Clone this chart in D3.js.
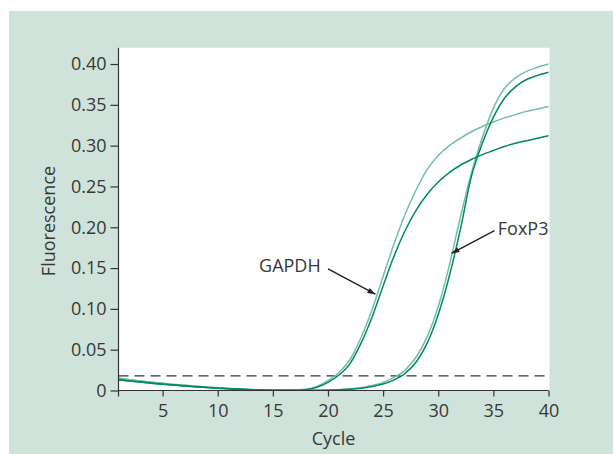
<!DOCTYPE html>
<html>
<head>
<meta charset="utf-8">
<script src="https://cdn.jsdelivr.net/npm/d3@7"></script>
<style>
  body { margin: 0; background: #fff; }
  text { font-family: "Open Sans", "Noto Sans", sans-serif; fill: #383838; }
</style>
</head>
<body>
<script>
// qPCR amplification curves
var cycles = [1,2,3,4,5,6,7,8,9,10,11,12,13,14,15,16,17,18,19,20,
              21,22,23,24,25,26,27,28,29,30,31,32,33,34,35,36,37,38,39,40];

var gapdhLight = [0.0150,0.0133,0.0117,0.0102,0.0088,0.0075,0.0063,0.0052,0.0042,0.0033,
                  0.0025,0.0018,0.0012,0.0007,0.0004,0.0003,0.0006,0.0015,0.0050,0.0120,
                  0.0220,0.0380,0.0650,0.0990,0.1400,0.1800,0.2160,0.2460,0.2710,0.2880,
                  0.3000,0.3090,0.3170,0.3235,0.3290,0.3340,0.3380,0.3420,0.3450,0.3480];
var gapdhDark  = [0.0132,0.0117,0.0103,0.0090,0.0078,0.0066,0.0055,0.0045,0.0036,0.0028,
                  0.0021,0.0015,0.0010,0.0006,0.0003,0.0002,0.0003,0.0010,0.0040,0.0100,
                  0.0190,0.0330,0.0580,0.0900,0.1280,0.1650,0.1960,0.2210,0.2405,0.2555,
                  0.2670,0.2760,0.2830,0.2890,0.2940,0.2990,0.3030,0.3060,0.3090,0.3120];
var foxp3Light = [0.0150,0.0133,0.0117,0.0102,0.0088,0.0075,0.0063,0.0052,0.0042,0.0033,
                  0.0025,0.0018,0.0012,0.0007,0.0004,0.0003,0.0003,0.0003,0.0004,0.0005,
                  0.0010,0.0020,0.0035,0.0060,0.0100,0.0160,0.0250,0.0410,0.0660,0.1030,
                  0.1530,0.2120,0.2660,0.3100,0.3460,0.3700,0.3830,0.3910,0.3960,0.4000];
var foxp3Dark  = [0.0132,0.0117,0.0103,0.0090,0.0078,0.0066,0.0055,0.0045,0.0036,0.0028,
                  0.0021,0.0015,0.0010,0.0006,0.0003,0.0002,0.0002,0.0002,0.0003,0.0004,
                  0.0008,0.0015,0.0028,0.0050,0.0080,0.0130,0.0210,0.0350,0.0580,0.0930,
                  0.1400,0.1970,0.2620,0.3030,0.3350,0.3580,0.3720,0.3810,0.3860,0.3900];

var threshold = 0.018;
var xTicks = [5,10,15,20,25,30,35,40];
var yTicks = [0,0.05,0.10,0.15,0.20,0.25,0.30,0.35,0.40];

// label: [text, text cycle, text value, arrow start cycle, start value, tip cycle, tip value]
var labels = [
  ["GAPDH", 13.75, 0.145, 20.0, 0.149, 24.3, 0.118],
  ["FoxP3", 35.4, 0.190, 35.1, 0.196, 31.2, 0.168]
];

var width = 613, height = 454;

var svg = d3.select("body").append("svg")
    .attr("width", width)
    .attr("height", height);

// panel background
svg.append("rect")
    .attr("x", 9).attr("y", 11)
    .attr("width", width - 9).attr("height", height - 11)
    .attr("fill", "#cfe3da");

var x = d3.scaleLinear().domain([1, 40]).range([118.5, 548.5]);
var y = d3.scaleLinear().domain([0, 0.42]).range([390.5, 47.7]);

// white plot area
svg.append("rect")
    .attr("x", x(1)).attr("y", y(0.42))
    .attr("width", x(40) - x(1) + 1).attr("height", y(0) - y(0.42))
    .attr("fill", "#fff");

// threshold line
svg.append("line")
    .attr("x1", x(1)).attr("x2", x(40))
    .attr("y1", y(threshold)).attr("y2", y(threshold))
    .attr("stroke", "#333")
    .attr("stroke-width", 1.3)
    .attr("stroke-dasharray", "10,6");

var line = d3.line()
    .x(function(d) { return x(d[0]); })
    .y(function(d) { return y(d[1]); })
    .curve(d3.curveMonotoneX);

var series = [
  { values: gapdhLight, color: "#74bfa0" },
  { values: foxp3Light, color: "#74bfa0" },
  { values: gapdhDark,  color: "#008a5e" },
  { values: foxp3Dark,  color: "#008a5e" }
];

svg.selectAll(".curve")
    .data(series)
    .enter().append("path")
        .attr("class", "curve")
        .attr("fill", "none")
        .attr("stroke", function(d) { return d.color; })
        .attr("stroke-width", 1.5)
        .attr("d", function(d) {
            return line(cycles.map(function(c, i) { return [c, d.values[i]]; }));
        });

// axes
var xAxis = svg.append("g")
    .attr("transform", "translate(0," + y(0) + ")")
    .call(d3.axisBottom(x).tickValues(xTicks).tickSize(6).tickPadding(8).tickSizeOuter(0));
var yAxis = svg.append("g")
    .attr("transform", "translate(" + x(1) + ",0)")
    .call(d3.axisLeft(y).tickValues(yTicks).tickSize(8).tickPadding(4).tickSizeOuter(0)
        .tickFormat(function(d) { return d === 0 ? "0" : d3.format(".2f")(d); }));

[xAxis, yAxis].forEach(function(g) {
    g.select(".domain").remove();
    g.selectAll(".tick line").attr("stroke", "#333").attr("stroke-width", 1.2);
    g.selectAll("text").attr("font-size", 18).attr("fill", "#383838")
        .attr("font-family", "'Open Sans', sans-serif");
});

svg.append("line")
    .attr("x1", x(1)).attr("x2", x(40))
    .attr("y1", y(0)).attr("y2", y(0))
    .attr("stroke", "#333").attr("stroke-width", 1.2);
svg.append("line")
    .attr("x1", x(1)).attr("x2", x(1))
    .attr("y1", y(0.42)).attr("y2", y(0) + 6)
    .attr("stroke", "#333").attr("stroke-width", 1.2);

svg.append("text")
    .attr("x", (x(1) + x(40)) / 2)
    .attr("y", 445)
    .attr("text-anchor", "middle")
    .attr("font-size", 18)
    .text("Cycle");

svg.append("text")
    .attr("transform", "translate(55,221) rotate(-90)")
    .attr("text-anchor", "middle")
    .attr("font-size", 18)
    .text("Fluorescence");

// annotation arrows
svg.append("defs").append("marker")
    .attr("id", "head")
    .attr("viewBox", "0 0 10 10")
    .attr("refX", 10).attr("refY", 5)
    .attr("markerWidth", 10).attr("markerHeight", 8)
    .attr("markerUnits", "userSpaceOnUse")
    .attr("orient", "auto")
  .append("path")
    .attr("d", "M0,1.5 L10,5 L0,8.5 z")
    .attr("fill", "#222");

svg.selectAll(".ann-line")
    .data(labels)
    .enter().append("line")
        .attr("class", "ann-line")
        .attr("x1", function(d) { return x(d[3]); })
        .attr("y1", function(d) { return y(d[4]); })
        .attr("x2", function(d) { return x(d[5]); })
        .attr("y2", function(d) { return y(d[6]); })
        .attr("stroke", "#222")
        .attr("stroke-width", 1.4)
        .attr("marker-end", "url(#head)");

svg.selectAll(".ann-text")
    .data(labels)
    .enter().append("text")
        .attr("class", "ann-text")
        .attr("x", function(d) { return x(d[1]); })
        .attr("y", function(d) { return y(d[2]); })
        .attr("font-size", 18)
        .text(function(d) { return d[0]; });
</script>
</body>
</html>
